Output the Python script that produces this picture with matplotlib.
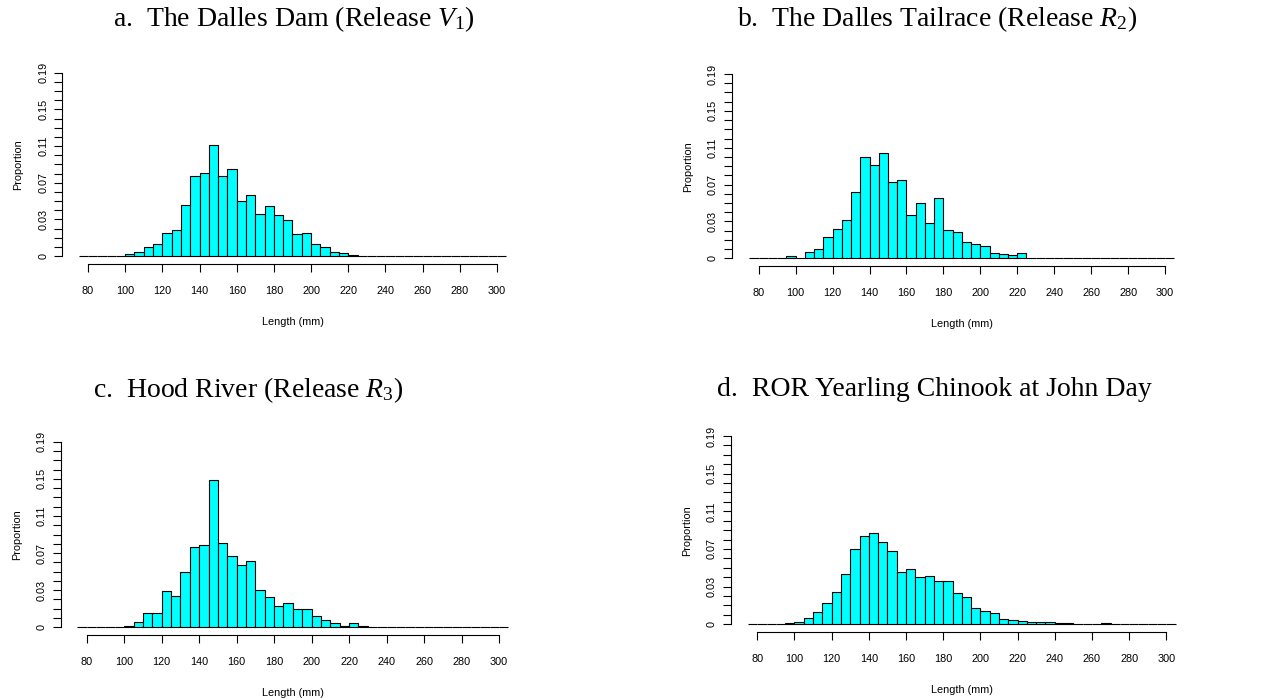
import numpy as np
import matplotlib

matplotlib.use("Agg")
import matplotlib.pyplot as plt  # noqa: E402

plt.rcParams["font.family"] = ["Liberation Sans", "DejaVu Sans"]
plt.rcParams["mathtext.fontset"] = "custom"
plt.rcParams["mathtext.rm"] = "Liberation Serif"
plt.rcParams["mathtext.it"] = "Liberation Serif:italic"

W, H = 1267, 698

# histogram bins (mm), 5 mm wide
BIN_EDGES = list(range(75, 310, 5))

# proportions per bin, first value belongs to the bin starting at *_START
DAM_START = 100
DAM = [0.0018, 0.0047, 0.0102, 0.0127, 0.0255, 0.0280, 0.0553, 0.0876, 0.0902,
       0.1215, 0.0869, 0.0953, 0.0596, 0.0662, 0.0458, 0.0545, 0.0444, 0.0389,
       0.0240, 0.0255, 0.0131, 0.0095, 0.0044, 0.0029, 0.0007]

TAILRACE_START = 95
TAILRACE = [0.0029, 0.0, 0.0072, 0.0105, 0.0231, 0.0315, 0.0420, 0.0723, 0.1096,
            0.1013, 0.1139, 0.0825, 0.0854, 0.0470, 0.0604, 0.0383, 0.0651, 0.0307,
            0.0282, 0.0174, 0.0152, 0.0130, 0.0058, 0.0047, 0.0033, 0.0058]

HOOD_START = 100
HOOD = [0.0018, 0.0054, 0.0151, 0.0151, 0.0388, 0.0341, 0.0600, 0.0865, 0.0887,
        0.1583, 0.0912, 0.0772, 0.0668, 0.0718, 0.0406, 0.0330, 0.0226, 0.0262,
        0.0201, 0.0201, 0.0118, 0.0075, 0.0043, 0.0018, 0.0043, 0.0018]

JOHNDAY_START = 95
JOHNDAY = [0.0010, 0.0028, 0.0067, 0.0127, 0.0227, 0.0347, 0.0531, 0.0796, 0.0938,
           0.0970, 0.0878, 0.0779, 0.0556, 0.0591, 0.0499, 0.0517, 0.0457, 0.0464,
           0.0329, 0.0287, 0.0177, 0.0145, 0.0124, 0.0053, 0.0042, 0.0032, 0.0021,
           0.0021, 0.0021, 0.0010, 0.0010, 0.0003, 0.0, 0.0, 0.0010]

TITLES = [
    r"a.  The Dalles Dam (Release $V_1$)",
    r"b.  The Dalles Tailrace (Release $R_2$)",
    r"c.  Hood River (Release $R_3$)",
    "d.  ROR Yearling Chinook at John Day",
]

X_TICKS = list(range(80, 320, 20))
Y_TICKS = [i / 100 for i in range(21)]
Y_LABELS = {0: "0", 4: "0.03", 8: "0.07", 12: "0.11", 16: "0.15", 20: "0.19"}

# pixel layout of each panel: y-axis x, y of 0, y of 0.20, x of 80, x of 300, x-axis y,
# title left x, title baseline y
LAYOUT = [
    (62.0, 256.0, 72.7, 88.0, 497.0, 264.0, 113, 26),
    (731.7, 258.3, 74.0, 758.7, 1165.0, 266.0, 737, 26),
    (60.7, 627.3, 441.7, 86.7, 499.0, 635.0, 93, 397),
    (730.7, 624.3, 436.0, 757.3, 1166.3, 631.7, 717, 396),
]


def _full(start, values):
    out = np.zeros(len(BIN_EDGES) - 1)
    i0 = BIN_EDGES.index(start)
    out[i0:i0 + len(values)] = values
    return out


def _panel(fig, values, title, layout):
    ysx, y0, y20, x80, x300, xsy, tx, ty = layout
    mm_per_px = 220.0 / (x300 - x80)
    val_per_px = 0.2 / (y0 - y20)
    right_px = x300 + 25
    top_px = y20 - 6
    ax = fig.add_axes([ysx / W, 1 - xsy / H, (right_px - ysx) / W, (xsy - top_px) / H])
    ax.set_xlim(80 - (x80 - ysx) * mm_per_px, 300 + 25 * mm_per_px)
    ax.set_ylim(-(xsy - y0) * val_per_px, 0.2 + 6 * val_per_px)
    ax.patch.set_alpha(0)

    ax.bar(BIN_EDGES[:-1], values, width=5, align="edge", color="#00ffff",
           edgecolor="black", linewidth=0.8, zorder=2)

    for side in ("top", "right"):
        ax.spines[side].set_visible(False)
    ax.spines["left"].set_bounds(0, 0.2)
    ax.spines["bottom"].set_bounds(80, 300)
    for side in ("left", "bottom"):
        ax.spines[side].set_linewidth(0.8)

    ax.set_xticks(X_TICKS)
    ax.set_xticklabels([str(v) for v in X_TICKS])
    ax.set_yticks(Y_TICKS)
    ax.set_yticklabels([Y_LABELS.get(i, "") for i in range(len(Y_TICKS))],
                       rotation=90, va="center")
    ax.tick_params(axis="x", length=5.8, width=0.8, pad=10, labelsize=7.8)
    ax.tick_params(axis="y", length=5.8, width=0.8, pad=4, labelsize=7.8)

    fig.text((x80 + x300) / 2 / W, 1 - (xsy + 58) / H, "Length (mm)",
             ha="center", va="center", fontsize=7.8)
    fig.text((ysx - 44) / W, 1 - (y0 + y20) / 2 / H, "Proportion",
             ha="center", va="center", rotation=90, fontsize=7.8)
    fig.text(tx / W, 1 - ty / H, title, ha="left", va="baseline",
             fontsize=20, family="Liberation Serif")


def main():
    fig = plt.figure(figsize=(W / 100, H / 100), dpi=100)
    series = [
        _full(DAM_START, DAM),
        _full(TAILRACE_START, TAILRACE),
        _full(HOOD_START, HOOD),
        _full(JOHNDAY_START, JOHNDAY),
    ]
    for values, title, layout in zip(series, TITLES, LAYOUT):
        _panel(fig, values, title, layout)
    fig.savefig("out.png", dpi=100)
    plt.close(fig)


if __name__ == "__main__":
    main()
